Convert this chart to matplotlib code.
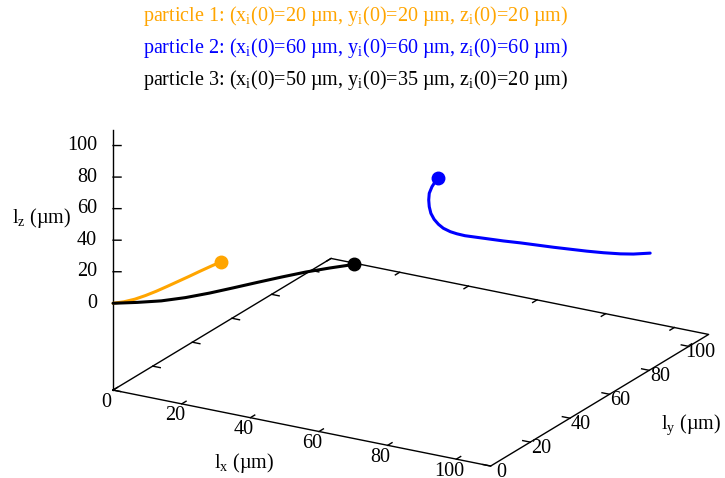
import numpy as np
import matplotlib
matplotlib.use('Agg')
import matplotlib.pyplot as plt
from mpl_toolkits.mplot3d import proj3d

plt.rcParams['font.family'] = ['Liberation Serif', 'DejaVu Serif']
plt.rcParams['mathtext.fontset'] = 'custom'
plt.rcParams['mathtext.rm'] = 'Liberation Serif'
plt.rcParams['mathtext.default'] = 'regular'

# particle trajectories in um, first sample is the initial position
p1_x = [20.0, 18.0, 16.0, 14.0, 12.0, 10.0, 8.0, 6.0, 4.0, 2.0, 0.0]
p1_y = [20.0, 18.0, 16.0, 14.0, 12.0, 10.0, 8.0, 6.0, 4.0, 2.0, 0.0]
p1_z = [20.0, 17.6, 15.1, 12.5, 10.0, 7.5, 5.1, 3.0, 1.3, 0.3, 0.0]

p2_x = [60.0, 59.5, 58.9, 58.4, 58.3, 58.4, 58.7, 59.3, 60.1, 61.0, 62.3,
        63.5, 65.0, 72.1, 75.2, 81.4, 87.5, 90.6, 93.7, 96.1, 99.2]
p2_y = [60.0, 59.5, 58.9, 58.4, 58.3, 58.4, 58.7, 59.3, 60.1, 61.0, 62.3,
        63.5, 65.0, 72.1, 75.2, 81.4, 87.5, 90.6, 93.7, 96.1, 99.2]
p2_z = [60.0, 58.0, 55.0, 51.0, 46.8, 42.5, 38.2, 34.2, 30.8, 28.0, 25.4,
        23.7, 22.0, 16.4, 14.2, 9.4, 5.0, 3.0, 1.3, 0.4, 0.0]

p3_x = [50.0, 45.0, 40.0, 35.0, 30.0, 25.0, 20.0, 15.0, 10.0, 5.0, 0.0]
p3_y = [35.0, 31.5, 28.0, 24.5, 21.0, 17.5, 14.0, 10.5, 7.0, 3.5, 0.0]
p3_z = [20.0, 18.2, 16.1, 13.4, 10.5, 7.5, 4.6, 2.2, 0.6, 0.1, 0.0]

legend_lines = [
    'particle 1: (x$_{i}$(0)=20 µm, y$_{i}$(0)=20 µm, z$_{i}$(0)=20 µm)',
    'particle 2: (x$_{i}$(0)=60 µm, y$_{i}$(0)=60 µm, z$_{i}$(0)=60 µm)',
    'particle 3: (x$_{i}$(0)=50 µm, y$_{i}$(0)=35 µm, z$_{i}$(0)=20 µm)',
]
colors = ['#ffa500', '#0000ff', '#000000']

xticks = [0, 20, 40, 60, 80, 100]
yticks = [0, 20, 40, 60, 80, 100]
zticks = [0, 20, 40, 60, 80, 100]

XMAX = 110
YMAX = 110
ZMIN, ZMAX = -55, 110   # base plane sits below z=0
TL = 2.2                # tic length in data units
FS = 14.5

fig = plt.figure(figsize=(7.25, 4.78), dpi=100)
ax = fig.add_axes([0.1017, -0.1908, 0.9055, 1.3734], projection='3d',
                  proj_type='ortho', computed_zorder=False)
ax.view_init(elev=20.4, azim=-60)
ax.set_box_aspect((1, 1, 0.637))
ax.set_xlim(0, XMAX)
ax.set_ylim(0, YMAX)
ax.set_zlim(ZMIN, ZMAX)
ax.set_axis_off()
ax.patch.set_visible(False)


def label(x, y, z, s, **kw):
    # place a flat 2D text at the projected position of a 3D point
    px, py, _ = proj3d.proj_transform(x, y, z, ax.get_proj())
    kw.setdefault('ha', 'center')
    kw.setdefault('va', 'center')
    ax.text2D(px, py, s, transform=ax.transData, fontsize=FS, **kw)


bk = dict(color='black', lw=1.0, zorder=1)

# base border and the vertical z axis
ax.plot([0, XMAX, XMAX, 0, 0], [0, 0, YMAX, YMAX, 0], [ZMIN] * 5, **bk)
ax.plot([0, 0], [0, 0], [ZMIN, ZMAX], **bk)

# tics (mirrored on the opposite base edges)
for t in xticks:
    ax.plot([t, t], [0, TL], [ZMIN, ZMIN], **bk)
    ax.plot([t, t], [YMAX, YMAX - TL], [ZMIN, ZMIN], **bk)
    label(t, -3.5, ZMIN - 5, str(t))
for t in yticks:
    ax.plot([XMAX, XMAX - TL], [t, t], [ZMIN, ZMIN], **bk)
    ax.plot([0, TL], [t, t], [ZMIN, ZMIN], **bk)
    label(XMAX + 3.2, t, ZMIN - 2.4, str(t))
for t in zticks:
    ax.plot([0, 1.75], [0, 1.0], [t, t], **bk)
    label(-3.5, -2.0, t, str(t), ha='right')

label(55, -29, ZMIN, 'l$_{x}$ (µm)')
label(139, 51, ZMIN, 'l$_{y}$ (µm)')
label(-15.5, -9, 54, 'l$_{z}$ (µm)')

# trajectories with a dot on the starting point
for xs, ys, zs, c in [(p1_x, p1_y, p1_z, colors[0]),
                      (p2_x, p2_y, p2_z, colors[1]),
                      (p3_x, p3_y, p3_z, colors[2])]:
    ax.plot(xs, ys, zs, color=c, lw=2.2, zorder=2,
            solid_capstyle='round', solid_joinstyle='round')
    ax.plot(xs[:1], ys[:1], zs[:1], 'o', color=c, ms=9, zorder=3)

for i, (txt, c) in enumerate(zip(legend_lines, colors)):
    fig.text(0.491, 1 - (16 + 32 * i) / 478, txt, color=c, ha='center',
             va='center', fontsize=FS)

fig.savefig('out.png', dpi=100)
